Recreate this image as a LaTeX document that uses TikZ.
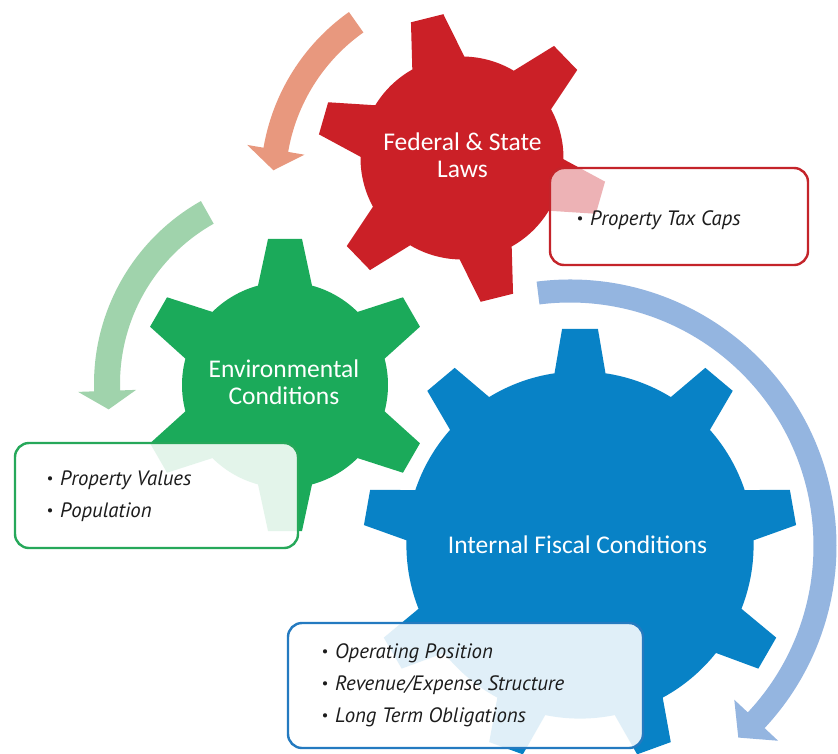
\documentclass[tikz,border=0pt]{standalone}
\usepackage{fontspec}
\setmainfont{Carlito}
\newfontfamily\notefont{PT Sans}

\definecolor{gearred}{RGB}{203,32,39}
\definecolor{geargreen}{RGB}{27,170,90}
\definecolor{gearblue}{RGB}{8,130,198}
\definecolor{arrowred}{RGB}{232,152,126}
\definecolor{arrowgreen}{RGB}{160,211,172}
\definecolor{arrowblue}{RGB}{148,181,224}
\definecolor{edgered}{RGB}{196,36,42}
\definecolor{edgegreen}{RGB}{38,168,90}
\definecolor{edgeblue}{RGB}{36,122,192}
\definecolor{notetext}{RGB}{28,28,28}

% Gear: #1 centre, #2 colour, #3 number of teeth, #4 angle of one tooth,
% #5 tip radius, #6 root radius, #7 half width of a tooth tip, #8 half width at the root
\newcommand{\gearshape}[8]{%
  \pgfmathsetmacro{\gtip}{asin(#7/#5)}%
  \pgfmathsetmacro{\groot}{asin(#8/#6)}%
  \pgfmathsetmacro{\gpitch}{360/#3}%
  \fill[#2, shift={(#1)}] ({#4-\groot}:#6)
    \foreach \k in {1,...,#3}{
      -- ({#4+(\k-1)*\gpitch-\gtip}:#5)
      -- ({#4+(\k-1)*\gpitch+\gtip}:#5)
      -- ({#4+(\k-1)*\gpitch+\groot}:#6)
      arc[start angle={#4+(\k-1)*\gpitch+\groot}, end angle={#4+\k*\gpitch-\groot}, radius=#6]
    } -- cycle;}

% Curved block arrow: #1 centre, #2 colour, #3 mid radius, #4 half band width,
% #5 tail angle, #6 angle of the head base, #7 angle of the tip, #8 half head width
\newcommand{\circarrow}[8]{%
  \fill[#2, shift={(#1)}] (#5:{#3+#4}) arc[start angle=#5, end angle=#6, radius={#3+#4}]
    -- (#6:{#3+#8}) -- (#7:#3) -- (#6:{#3-#8}) -- (#6:{#3-#4})
    arc[start angle=#6, end angle=#5, radius={#3-#4}] -- cycle;}

% bullet hanging to the left of a note line
\newcommand{\bul}{\makebox[0pt][r]{\raisebox{1.6pt}{\fontsize{15}{15}\selectfont\textbullet}\hspace{7pt}}}

\begin{document}
\begin{tikzpicture}[x=1pt,y=1pt,
  gearlabel/.style={anchor=base, inner sep=0pt, text=white,
    font=\fontsize{25.5}{27}\selectfont},
  notebox/.style={rounded corners=14pt, line width=2.4pt, inner sep=0pt, fill=white},
  noteline/.style={anchor=base west, inner sep=0pt, text=notetext,
    font=\notefont\itshape\fontsize{20.8}{24}\selectfont}]
\useasboundingbox (0,0) rectangle (838,-753);
\fill[white] (0,0) rectangle (838,-753);

\coordinate (redc) at (462,-158);
\coordinate (greenc) at (285,-385);
\coordinate (bluec) at (580,-545);
\coordinate (redarc) at (470,-183);
\coordinate (greenarc) at (304,-384);
\coordinate (bluearc) at (570,-546);

% rotation arrows
\circarrow{redarc}{arrowred}{197}{12.5}{125.3}{170.3}{176.3}{29}
\circarrow{greenarc}{arrowgreen}{197}{13}{119.4}{182}{187.4}{29}
\circarrow{bluearc}{arrowblue}{255}{11.5}{97.2}{-43.1}{-48.7}{30}

% gears
\gearshape{bluec}{gearblue}{9}{90}{217}{173.6}{17.9}{25.5}
\gearshape{greenc}{geargreen}{6}{90}{147}{103}{17}{27}
\gearshape{redc}{gearred}{6}{104}{145}{101.5}{16.7}{26.8}

% note boxes
\node[notebox, draw=edgered, fill opacity=0.66, minimum width=258pt, minimum height=97pt] (taxbox) at (679,-216.5) {};
\node[notebox, draw=edgegreen, fill opacity=0.88, minimum width=283pt, minimum height=105pt] (envbox) at (156.5,-495.5) {};
\node[notebox, draw=edgeblue, fill opacity=0.88, minimum width=355pt, minimum height=125pt] (fiscalbox) at (465.5,-685.5) {};

% gear labels
\node[gearlabel] (redtop) at (462.5,-150) {Federal \& State};
\node[gearlabel] (redbottom) at (462.5,-177) {Laws};
\node[gearlabel] (greentop) at (284,-377) {Environmental};
\node[gearlabel] (greenbottom) at (284,-404) {Conditions};
\node[gearlabel] (bluetext) at (577.5,-553) {Internal Fiscal Conditions};

% note lines
\node[noteline] (tax1) at (590,-225) {\bul Property Tax Caps};
\node[noteline] (env1) at (60,-485) {\bul Property Values};
\node[noteline] (env2) at (60,-517) {\bul Population};
\node[noteline] (fis1) at (335,-658) {\bul Operating Position};
\node[noteline] (fis2) at (335,-690) {\bul Revenue/Expense Structure};
\node[noteline] (fis3) at (335,-722) {\bul Long Term Obligations};
\end{tikzpicture}
\end{document}
